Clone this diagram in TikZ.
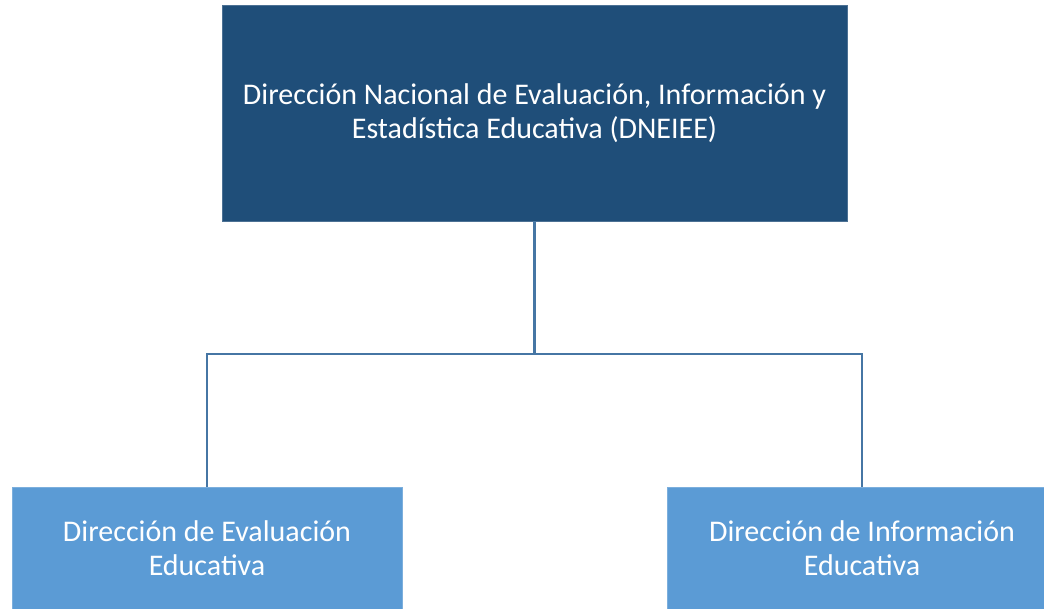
\documentclass[tikz,border=0pt]{standalone}
\usepackage{fontspec}
\setmainfont{Carlito}
\usetikzlibrary{positioning}

\definecolor{headblue}{RGB}{31,78,121}
\definecolor{unitblue}{RGB}{91,155,213}
\definecolor{linkblue}{RGB}{70,118,164}

\begin{document}
\begin{tikzpicture}[%
        x = 1pt,
        y = 1pt,
        line width = 2.4pt,
        every node/.style = {inner sep = 0pt, outer sep = 0pt, text = white,
            align = center, font = \fontsize{30}{33.5}\selectfont},
        headbox/.style = {fill = headblue, draw = headblue!80!white, line width = 0.6pt,
            minimum width = 625pt, minimum height = 216pt},
        unitbox/.style = {fill = unitblue, draw = unitblue!80!white, line width = 0.6pt,
            minimum width = 390pt, minimum height = 122pt},
        link/.style = {draw = linkblue, line width = 2.6pt}
    ]

        % Fix the page to the size of the reference.
        \useasboundingbox[clip] (0, 0) rectangle (1044, -609);

        % The directorate and its two units.
        \node[headbox] (dneiee) at (534.5, -113)
            {Dirección Nacional de Evaluación, Información y\\Estadística Educativa (DNEIEE)};
        \node[unitbox] (evaluacion) at (207, -548)
            {Dirección de Evaluación\\Educativa};
        \node[unitbox] (informacion) at (862, -548)
            {Dirección de Información\\Educativa};

        % Connectors, split at one point below the directorate.
        \coordinate (split) at (534.5, -354);
        \draw[link] (dneiee.south) to (split);
        \draw[link] (evaluacion.north) |- (split) -| (informacion.north);
    \end{tikzpicture}
\end{document}
